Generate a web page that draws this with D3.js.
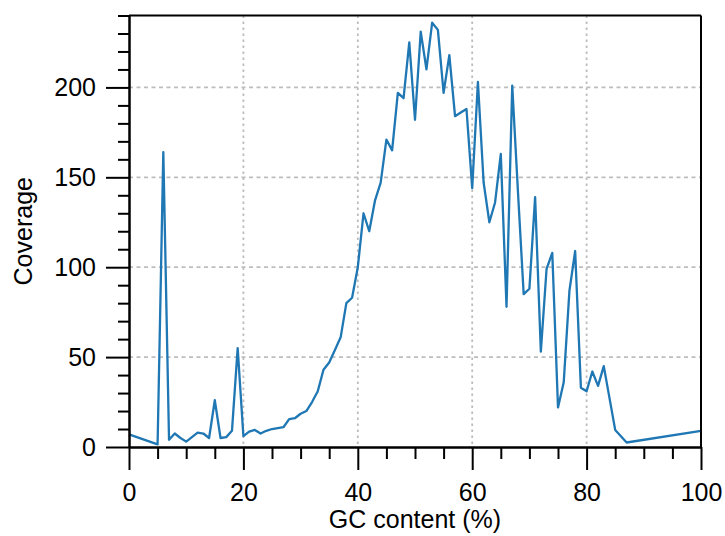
<!DOCTYPE html>
<html>
<head>
<meta charset="utf-8">
<script src="https://cdn.jsdelivr.net/npm/d3@7"></script>
<style>
  body { margin: 0; background: #fff; }
  svg { display: block; }
  text { font-family: "Liberation Sans", Arial, sans-serif; fill: #000; }
</style>
</head>
<body>
<svg id="chart" width="725" height="536"></svg>
<script>
// GC content (%)
let gcContent = [0, 5, 6, 7, 8, 9, 10, 11, 12, 13, 14, 15, 16, 17, 18, 19, 20,
  21, 22, 23, 24, 25, 26, 27, 28, 29, 30, 31, 32, 33, 34, 35, 36, 37, 38, 39, 40,
  41, 42, 43, 44, 45, 46, 47, 48, 49, 50, 51, 52, 53, 54, 55, 56, 57, 58, 59, 60,
  61, 62, 63, 64, 65, 66, 67, 68, 69, 70, 71, 72, 73, 74, 75, 76, 77, 78, 79, 80,
  81, 82, 83, 85, 87, 100];
let coverage = [7, 1.5, 164, 4, 7.5, 5, 3, 5.5, 8, 7.5, 5, 26, 5, 5.5, 9, 55, 6,
  8.5, 9.5, 7.5, 9, 10, 10.5, 11, 15.5, 16, 18.5, 20, 25, 31, 43, 47, 54, 61, 80, 83, 100,
  130, 120, 137, 147, 171, 165, 197, 194, 225, 182, 231, 210, 236, 232, 197, 218, 184, 186, 188, 144,
  203, 147, 125, 136, 163, 78, 201, 142, 85, 88, 139, 53, 99, 108, 22, 36, 87, 109, 33, 31,
  42, 34, 45, 9.5, 2.5, 9];

let xMajor = [0, 20, 40, 60, 80, 100];
let xMinor = [5, 10, 15, 25, 30, 35, 45, 50, 55, 65, 70, 75, 85, 90, 95];
let yMajor = [0, 50, 100, 150, 200];
let yMinor = [10, 20, 30, 40, 60, 70, 80, 90, 110, 120, 130, 140, 160, 170, 180, 190, 210, 220, 230, 240];
let xAxisName = "GC content (%)";
let yAxisName = "Coverage";

let svg = d3.select("#chart");
let plotLeft = 129, plotRight = 701, plotTop = 15.5, plotBottom = 447;

let xScale = d3.scaleLinear().domain([0, 100]).range([plotLeft, plotRight]);
let yScale = d3.scaleLinear().domain([0, 240]).range([plotBottom, plotTop]);

let points = gcContent.map((g, i) => ({x: g, y: coverage[i]}));

// grid lines (dashed, light grey)
svg.append("g").selectAll("line")
  .data(yMajor.filter(v => v > 0))
  .enter().append("line")
  .attr("x1", plotLeft).attr("x2", plotRight)
  .attr("y1", d => yScale(d)).attr("y2", d => yScale(d))
  .attr("stroke", "#bdbdbd").attr("stroke-width", 1.8)
  .attr("stroke-dasharray", "4,3.5");

svg.append("g").selectAll("line")
  .data(xMajor.filter(v => v > 0 && v < 100))
  .enter().append("line")
  .attr("x1", d => xScale(d)).attr("x2", d => xScale(d))
  .attr("y1", plotTop).attr("y2", plotBottom)
  .attr("stroke", "#bdbdbd").attr("stroke-width", 1.8)
  .attr("stroke-dasharray", "2.5,3.5");

// the coverage line
let line = d3.line().x(d => xScale(d.x)).y(d => yScale(d.y));
svg.append("path")
  .datum(points)
  .attr("d", line)
  .attr("fill", "none")
  .attr("stroke", "#1f77b4")
  .attr("stroke-width", 2.3)
  .attr("stroke-linejoin", "round");

// frame top and right
svg.append("line").attr("x1", plotLeft).attr("x2", plotRight).attr("y1", plotTop).attr("y2", plotTop)
  .attr("stroke", "#000").attr("stroke-width", 2.2);
svg.append("line").attr("x1", plotRight).attr("x2", plotRight).attr("y1", plotTop).attr("y2", plotBottom)
  .attr("stroke", "#000").attr("stroke-width", 2);

// x axis: major and minor ticks
let xAxis = d3.axisBottom(xScale).tickValues(xMajor).tickSize(23).tickSizeOuter(0).tickPadding(13);
let xMinorAxis = d3.axisBottom(xScale).tickValues(xMinor).tickSize(12).tickSizeOuter(0).tickFormat("");
svg.append("g").attr("transform", "translate(0," + plotBottom + ")").call(xAxis);
svg.append("g").attr("transform", "translate(0," + plotBottom + ")").call(xMinorAxis);

// y axis
let yAxis = d3.axisLeft(yScale).tickValues(yMajor).tickSize(23).tickSizeOuter(0).tickPadding(10);
let yMinorAxis = d3.axisLeft(yScale).tickValues(yMinor).tickSize(11).tickSizeOuter(0).tickFormat("");
svg.append("g").attr("transform", "translate(" + plotLeft + ",0)").call(yAxis);
svg.append("g").attr("transform", "translate(" + plotLeft + ",0)").call(yMinorAxis);

svg.selectAll(".domain, .tick line").attr("stroke", "#000").attr("stroke-width", 2);
svg.selectAll(".tick text").style("font-size", "25px").style("font-family", "Liberation Sans, Arial, sans-serif");

// axis names
svg.append("text")
  .attr("x", (plotLeft + plotRight) / 2).attr("y", 528)
  .attr("text-anchor", "middle")
  .style("font-size", "25px")
  .text(xAxisName);

svg.append("text")
  .attr("transform", "translate(31.5," + ((plotTop + plotBottom) / 2) + ") rotate(-90)")
  .attr("text-anchor", "middle")
  .style("font-size", "25px")
  .text(yAxisName);
</script>
</body>
</html>
